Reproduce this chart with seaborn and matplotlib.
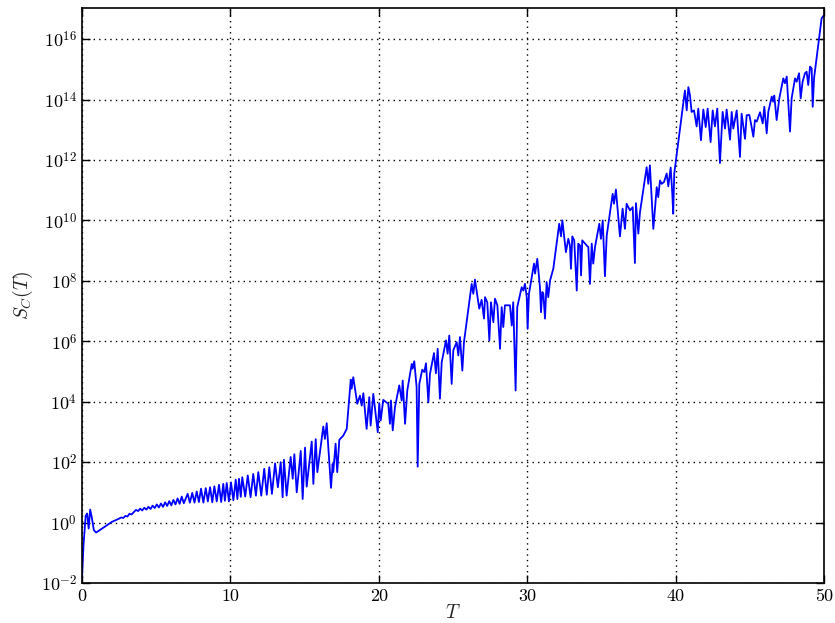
import numpy as np
import pandas as pd
import matplotlib
matplotlib.use("Agg")
import matplotlib.pyplot as plt
import matplotlib.ticker as mticker
import seaborn as sns

# trace: T and log10 of S_C(T)
t_vals = [
    0.00, 0.10, 0.25, 0.35, 0.45, 0.55, 0.65, 0.80, 0.95, 1.20,
    1.50, 2.00, 2.50, 2.64, 2.78, 2.92, 3.06, 3.20, 3.34,
    3.50, 3.64, 3.78, 3.92, 4.06, 4.20,
    4.34, 4.48, 4.62, 4.76, 4.90, 5.04, 5.18, 5.32, 5.46, 5.60,
    5.74, 5.88, 6.02, 6.16, 6.30, 6.44, 6.58, 6.72, 6.86, 7.12,
    7.27, 7.43, 7.58, 7.73, 7.88, 8.02, 8.18, 8.34, 8.48, 8.63,
    8.78, 8.92, 9.08, 9.23, 9.38, 9.52, 9.63, 9.75, 9.90, 10.04,
    10.20, 10.36, 10.47, 10.58, 10.70, 10.80, 11.00, 11.17, 11.36, 11.54,
    11.72, 11.88, 12.08, 12.28, 12.45, 12.62, 12.80, 13.01, 13.20, 13.39,
    13.52, 13.61, 13.79, 14.06, 14.20, 14.31, 14.47, 14.74, 14.87, 15.03,
    15.14, 15.48, 15.59, 15.75, 15.86, 16.26, 16.37, 16.49, 16.78, 16.89,
    16.93, 17.09, 17.20, 17.34, 17.61, 17.84, 18.11, 18.17, 18.28, 18.55,
    18.73, 18.85, 18.96, 19.18, 19.36, 19.45, 19.63, 19.93, 20.03, 20.13,
    20.30, 20.64, 20.75, 20.82, 20.94, 21.09, 21.38, 21.54, 21.61, 21.77,
    21.92, 22.22, 22.28, 22.39, 22.55, 22.62, 22.73, 22.93, 23.07, 23.18,
    23.34, 23.45, 23.72, 23.85, 23.97, 24.12, 24.24, 24.53, 24.64, 24.75,
    24.91, 25.02, 25.25, 25.36, 25.47, 25.63, 25.74, 26.26, 26.37, 26.48,
    26.77, 26.93, 27.09, 27.16, 27.31, 27.45, 27.56, 27.72, 27.83, 27.99,
    28.17, 28.28, 28.39, 28.50, 28.84, 28.96, 29.06, 29.22, 29.33, 29.63,
    29.74, 29.85, 29.97, 30.03, 30.12, 30.46, 30.53, 30.68, 30.86, 30.93,
    31.02, 31.09, 31.20, 31.31, 31.42, 31.54, 31.76, 32.16, 32.28, 32.37,
    32.61, 32.77, 32.88, 32.95, 33.04, 33.17, 33.34, 33.44, 33.56, 33.63,
    33.71, 34.01, 34.12, 34.23, 34.35, 34.45, 34.57, 34.86, 34.97, 35.09,
    35.24, 35.36, 35.76, 35.85, 35.98, 36.25, 36.43, 36.59, 36.70, 36.93,
    37.11, 37.26, 37.33, 37.49, 37.60, 38.05, 38.16, 38.27, 38.50, 38.73,
    38.83, 38.95, 39.06, 39.22, 39.40, 39.51, 39.67, 39.78, 39.84, 39.91,
    40.63, 40.75, 40.86, 40.97, 41.08, 41.24, 41.42, 41.53, 41.71, 41.87,
    42.03, 42.16, 42.36, 42.50, 42.65, 42.81, 42.99, 43.17, 43.33, 43.44,
    43.67, 43.78, 43.89, 44.12, 44.34, 44.45, 44.68, 44.79, 44.97, 45.08,
    45.24, 45.35, 45.47, 45.69, 45.87, 45.98, 46.14, 46.25, 46.48, 46.58,
    46.65, 46.81, 46.99, 47.26, 47.37, 47.49, 47.71, 47.82, 48.05, 48.16,
    48.32, 48.43, 48.56, 48.72, 48.83, 48.94, 49.06, 49.17, 49.24, 49.33,
    49.84, 50.00,
]

log_sc = [
    -1.85, -0.75, 0.23, 0.30, -0.20, 0.43, 0.20, -0.25, -0.33, -0.25,
    -0.15, 0.02, 0.13, 0.17, 0.15, 0.22, 0.20, 0.29, 0.27,
    0.35, 0.42, 0.38, 0.46, 0.40, 0.49,
    0.43, 0.52, 0.45, 0.56, 0.48, 0.60, 0.50, 0.63, 0.52, 0.67,
    0.55, 0.71, 0.57, 0.75, 0.60, 0.80, 0.62, 0.86, 0.64, 0.95,
    0.66, 0.98, 0.66, 1.03, 0.68, 1.12, 0.66, 1.14, 0.70, 1.17,
    0.67, 1.20, 0.70, 1.25, 0.68, 1.28, 0.72, 1.31, 0.70, 1.33,
    0.74, 1.42, 0.78, 1.45, 0.85, 1.50, 0.86, 1.56, 0.84, 1.61,
    0.89, 1.67, 0.89, 1.78, 0.92, 1.83, 0.95, 1.96, 1.17, 2.00,
    0.84, 2.08, 0.89, 2.17, 1.45, 2.26, 1.00, 2.37, 0.78, 2.48,
    1.19, 2.68, 1.28, 2.76, 1.67, 3.18, 2.77, 3.29, 1.15, 1.94,
    1.67, 2.61, 1.67, 2.74, 2.88, 3.10, 4.73, 4.43, 4.81, 3.93,
    4.20, 3.87, 4.28, 3.10, 4.15, 3.21, 4.26, 2.99, 3.95, 3.38,
    4.06, 3.93, 3.27, 4.04, 3.05, 3.82, 4.54, 4.04, 4.70, 3.27,
    4.37, 5.25, 5.09, 5.34, 4.48, 1.85, 4.59, 5.06, 4.98, 5.27,
    3.98, 4.92, 5.61, 4.94, 5.75, 4.10, 5.31, 6.03, 5.59, 6.19,
    4.59, 5.70, 5.97, 5.53, 6.14, 5.03, 5.97, 7.90, 7.57, 8.04,
    7.08, 7.37, 6.75, 7.46, 7.29, 6.03, 7.29, 6.63, 7.41, 7.19,
    5.75, 7.13, 6.47, 7.19, 7.19, 6.52, 7.29, 4.37, 7.13, 7.79,
    7.68, 7.90, 7.46, 6.41, 7.57, 8.57, 8.24, 8.73, 7.79, 6.96,
    7.63, 7.57, 6.75, 7.96, 7.46, 8.01, 8.40, 9.89, 9.47, 10.00,
    8.95, 9.39, 9.17, 8.40, 9.47, 9.34, 7.68, 9.23, 9.17, 8.18,
    9.34, 9.17, 9.12, 7.90, 9.23, 8.57, 9.12, 9.89, 9.39, 10.00,
    8.15, 9.50, 10.88, 10.55, 11.02, 9.47, 10.39, 9.72, 10.55, 10.33,
    10.44, 8.59, 10.57, 9.56, 10.27, 11.76, 11.21, 11.82, 9.72, 11.10,
    10.77, 11.32, 11.21, 11.27, 11.55, 11.13, 11.75, 10.88, 10.22, 11.55,
    14.30, 13.64, 14.41, 14.14, 13.59, 13.64, 13.11, 13.70, 12.65, 13.67,
    13.09, 13.70, 12.59, 13.64, 13.11, 13.70, 11.90, 13.59, 13.04, 13.67,
    12.67, 13.59, 13.04, 13.64, 12.10, 13.53, 12.70, 13.48, 13.49, 13.21,
    12.77, 13.32, 13.27, 13.58, 13.21, 13.76, 12.88, 13.60, 14.10, 13.93,
    14.13, 13.32, 14.04, 14.70, 14.54, 14.76, 12.94, 14.04, 14.70, 14.59,
    14.87, 14.04, 14.59, 14.87, 14.92, 14.48, 15.09, 15.03, 13.76, 14.70,
    16.69, 16.79,
]

x_ticks = [0, 10, 20, 30, 40, 50]
y_exponents = [-2, 0, 2, 4, 6, 8, 10, 12, 14, 16]

sns.set_style("ticks")
plt.rcParams.update({
    "font.family": "serif",
    "font.serif": ["cmr10", "DejaVu Serif"],
    "mathtext.fontset": "cm",
    "axes.formatter.use_mathtext": True,
    "font.size": 13,
    "xtick.direction": "in",
    "ytick.direction": "in",
    "xtick.top": True,
    "ytick.right": True,
    "axes.edgecolor": "black",
})

df = pd.DataFrame({"T": t_vals, "S": 10.0 ** np.array(log_sc)})

fig = plt.figure(figsize=(8.35, 6.23), dpi=100)
ax = fig.add_axes([0.0982, 0.0642, 0.8886, 0.923])
sns.lineplot(data=df, x="T", y="S", ax=ax, color="blue", linewidth=1.3,
             estimator=None, sort=False)
ax.set_yscale("log")
ax.set_xlim(0, 50)
ax.set_ylim(1e-2, 10 ** 17.03)
ax.set_xticks(x_ticks)
ax.set_xticklabels([str(t) for t in x_ticks])
ax.set_yticks([10.0 ** e for e in y_exponents])
ax.set_yticklabels([f"$10^{{{e}}}$" for e in y_exponents])
ax.yaxis.set_minor_locator(mticker.NullLocator())
ax.xaxis.set_minor_locator(mticker.NullLocator())
ax.tick_params(which="major", length=6, width=1, colors="black", labelsize=13)
ax.tick_params(axis="x", pad=4)
ax.grid(True, color="black", linestyle=(0, (1, 3)), linewidth=1)
for s in ax.spines.values():
    s.set_linewidth(1.2)
ax.set_xlabel("$T$", fontsize=14, labelpad=0)
ax.set_ylabel("$S_C(T)$", fontsize=14, labelpad=4)

fig.savefig("out.png", dpi=100)
plt.close()
